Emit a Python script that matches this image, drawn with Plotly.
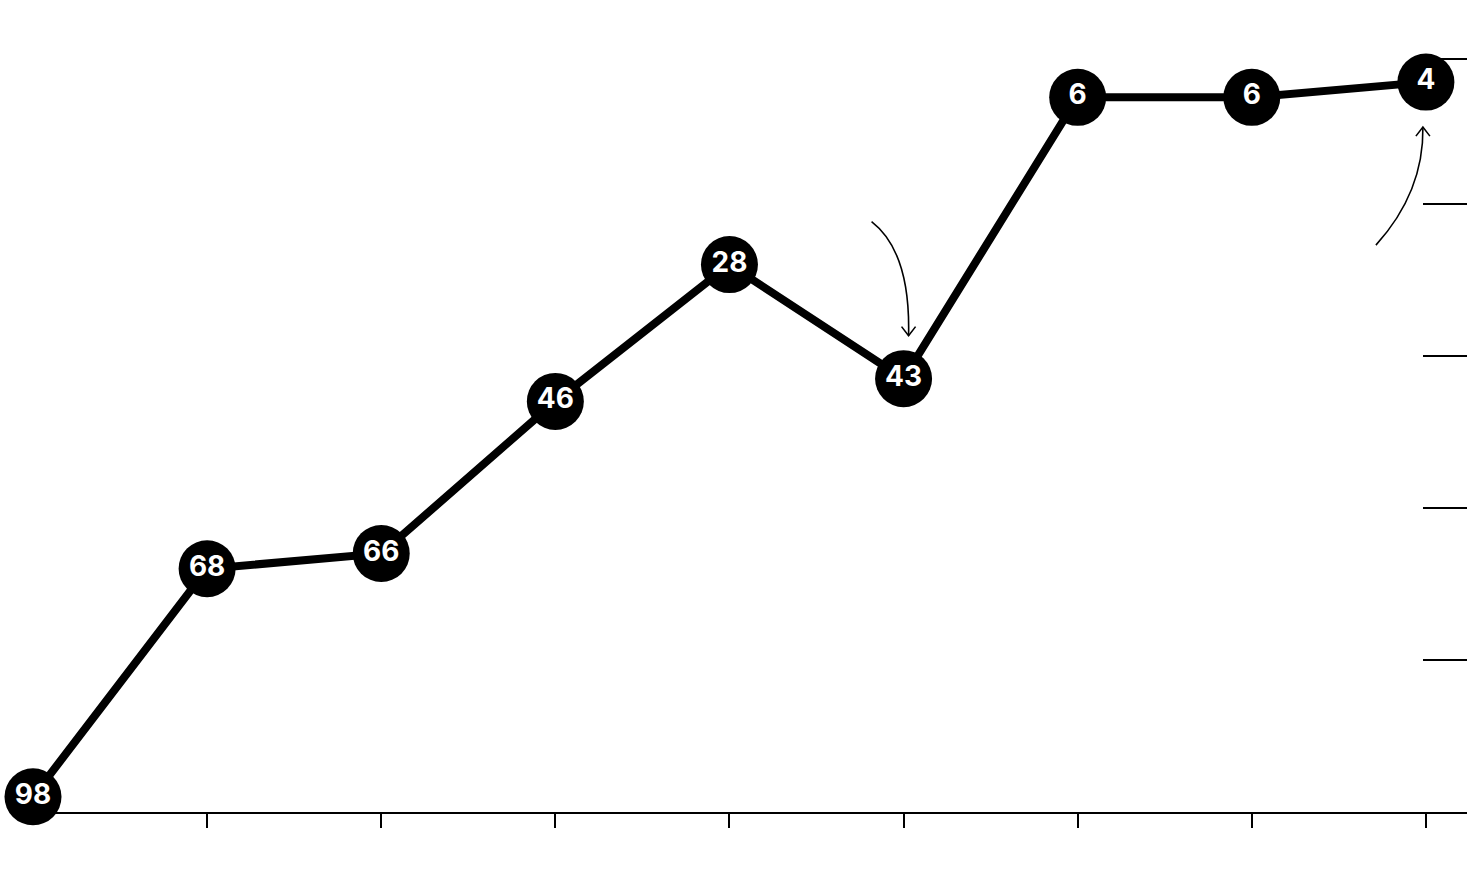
import plotly.graph_objects as go

# Data
positions = [0, 1, 2, 3, 4, 5, 6, 7, 8]
ranks = [98, 68, 66, 46, 28, 43, 6, 6, 4]
rank_labels = ["98", "68", "66", "46", "28", "43", "6", "6", "4"]
y_tickvals = [1, 20, 40, 60, 80]
x_tickvals = [1, 2, 3, 4, 5, 6, 7, 8]

# Layout geometry (page has no body margin, see post_script)
W, H = 1480, 886
ML, MR, MT, MB = 12, 13, 20, 74
plot_w = W - ML - MR
plot_h = H - MT - MB
x_range = [-0.1206, 8.236]
y_range = [100, -4.17]

def px_to_dx(dpx):
    return dpx * (x_range[1] - x_range[0]) / plot_w

def px_to_dy(dpx):
    # positive dpx = downwards on screen; y axis is reversed
    return dpx * (y_range[0] - y_range[1]) / plot_h

def pt(i, dx_px, dy_px):
    return positions[i] + px_to_dx(dx_px), ranks[i] + px_to_dy(dy_px)

fig = go.Figure()
fig.add_trace(go.Scatter(
    x=positions, y=ranks, mode="lines+markers+text",
    text=rank_labels, textposition="middle center",
    textfont=dict(family="Inter, Liberation Sans, Arial, sans-serif", size=28, color="white", weight="bold"),
    line=dict(color="black", width=8),
    marker=dict(color="black", size=57, line=dict(width=0)),
    hoverinfo="skip", cliponaxis=False,
))

shapes = []

def curved_arrow(i, start, ctrl, end, head_up):
    sx, sy = pt(i, *start)
    cx, cy = pt(i, *ctrl)
    ex, ey = pt(i, *end)
    shapes.append(dict(type="path", xref="x", yref="y",
                       path=f"M {sx},{sy} Q {cx},{cy} {ex},{ey}",
                       line=dict(color="black", width=1.6)))
    d = 9 if head_up else -9
    lx, ly = pt(i, end[0] - 7, end[1] + d)
    rx, ry = pt(i, end[0] + 7, end[1] + d)
    shapes.append(dict(type="path", xref="x", yref="y",
                       path=f"M {lx},{ly} L {ex},{ey} L {rx},{ry}",
                       line=dict(color="black", width=1.6)))

# arrow pointing down to rank 43 (index 5)
curved_arrow(5, (-32, -157), (7, -127), (5, -43), head_up=False)
# arrow pointing up to rank 4 (index 8)
curved_arrow(8, (-50, 163), (-2, 110), (-3, 45), head_up=True)

fig.update_layout(
    width=W, height=H,
    margin=dict(l=ML, r=MR, t=MT, b=MB),
    paper_bgcolor="white", plot_bgcolor="white",
    showlegend=False,
    hovermode=False,
    shapes=shapes,
    xaxis=dict(range=x_range, showgrid=False, zeroline=False,
               showline=True, linecolor="black", linewidth=1.5,
               ticks="outside", ticklen=14, tickwidth=1.5, tickcolor="black",
               tickvals=x_tickvals, showticklabels=False, layer="below traces"),
    yaxis=dict(range=y_range, side="right", showgrid=False, zeroline=False,
               showline=False, ticks="inside", ticklen=44, tickwidth=1.5,
               tickcolor="black", tickvals=y_tickvals, showticklabels=False,
               layer="below traces"),
)

fig.write_html("out.html", config={"displayModeBar": False},
               post_script="document.body.style.margin='0px';")
